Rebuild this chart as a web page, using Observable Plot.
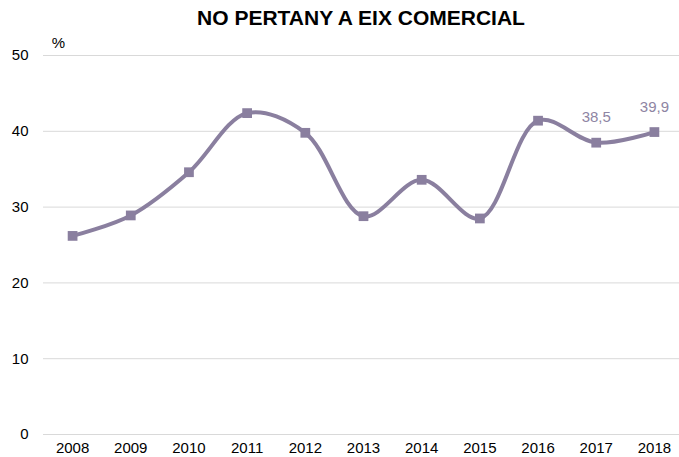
<!DOCTYPE html>
<html>
<head>
<meta charset="utf-8">
<script src="https://cdn.jsdelivr.net/npm/d3@7"></script>
<script src="https://cdn.jsdelivr.net/npm/@observablehq/plot@0.6"></script>
<style>
  html, body { margin: 0; padding: 0; background: #fff; }
  #wrap { width: 679px; height: 457px; overflow: hidden; font-family: "Liberation Sans", Arial, sans-serif; }
  #title { height: 34px; box-sizing: border-box; padding-left: 43px; text-align: center;
           font-weight: bold; font-size: 21px; line-height: 24px; padding-top: 6px; color: #000; }
</style>
</head>
<body>
<div id="wrap">
  <div id="title">NO PERTANY A EIX COMERCIAL</div>
  <div id="chart"></div>
</div>
<script>
const years = [2008, 2009, 2010, 2011, 2012, 2013, 2014, 2015, 2016, 2017, 2018];
const values = [26.2, 28.9, 34.6, 42.4, 39.8, 28.8, 33.6, 28.5, 41.4, 38.5, 39.9];
const yTicks = [0, 10, 20, 30, 40, 50];
const labelYears = [2017, 2018];
const labelTexts = ["38,5", "39,9"];

const data = years.map((y, i) => ({year: y, value: values[i]}));
const labelData = labelYears.map((y, i) => ({year: y, value: values[years.indexOf(y)], text: labelTexts[i]}));

const lineColor = "#8a7f9f";

const chart = Plot.plot({
  width: 679,
  height: 423,
  marginTop: 21,
  marginBottom: 23,
  marginLeft: 43,
  marginRight: 0,
  style: {fontFamily: "Liberation Sans, Arial, sans-serif", fontSize: "15px", color: "#000", background: "#fff"},
  x: {domain: [2007.5, 2018.5], range: [43, 683], ticks: years, tickFormat: "d", tickSize: 0, tickPadding: 8, label: null},
  y: {domain: [0, 50], ticks: yTicks, tickSize: 0, tickPadding: 15, label: null},
  marks: [
    Plot.ruleY(yTicks, {stroke: "#d9d9d9", strokeWidth: 1}),
    Plot.axisX({ticks: years, tickFormat: "d", tickSize: 0, tickPadding: 8, label: null, fill: "#000"}),
    Plot.axisY({ticks: yTicks, tickSize: 0, tickPadding: 15, label: null, fill: "#000"}),
    Plot.line(data, {x: "year", y: "value", stroke: lineColor, strokeWidth: 4, curve: "catmull-rom"}),
    Plot.dot(data, {x: "year", y: "value", symbol: "square", r: 5.5, fill: lineColor, stroke: "none"}),
    Plot.text(labelData, {x: "year", y: "value", text: "text", dy: -25, fill: "#8e85a3", fontSize: 15}),
    Plot.text(["%"], {frameAnchor: "top-left", dx: 15, dy: -18, textAnchor: "middle", fontSize: 15, fill: "#000"})
  ]
});
document.getElementById("chart").appendChild(chart);
</script>
</body>
</html>
